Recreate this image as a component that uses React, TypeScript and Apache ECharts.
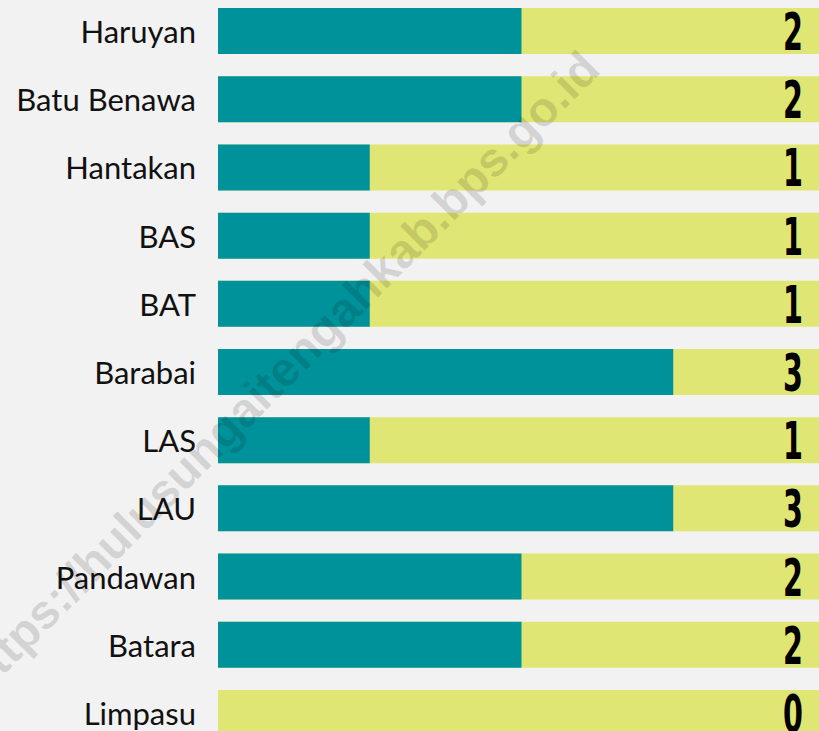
import React, { useEffect, useRef } from "react";
import * as echarts from "echarts";

const categories = [
  "Haruyan",
  "Batu Benawa",
  "Hantakan",
  "BAS",
  "BAT",
  "Barabai",
  "LAS",
  "LAU",
  "Pandawan",
  "Batara",
  "Limpasu",
];
const values = [2, 2, 1, 1, 1, 3, 1, 3, 2, 2, 0];
const axisMax = 4;
const fullBar = categories.map(() => axisMax);
const valueLabels = values.map((v, i) => [axisMax, i, v]);
const watermark = "https://hulusungaitengahkab.bps.go.id";

export default function App() {
  const ref = useRef<HTMLDivElement>(null);
  useEffect(() => {
    if (!ref.current) return;
    const chart = echarts.init(ref.current, undefined, { renderer: "svg" });
    chart.setOption({
      animation: false,
      backgroundColor: "#f2f2f2",
      grid: { left: 218, top: 0, width: 607, height: 750, containLabel: false },
      xAxis: {
        type: "value",
        min: 0,
        max: axisMax,
        show: false,
      },
      yAxis: {
        type: "category",
        data: categories,
        inverse: true,
        axisLine: { show: false },
        axisTick: { show: false },
        splitLine: { show: false },
        axisLabel: {
          margin: 22,
          fontFamily: "Lato, sans-serif",
          fontSize: 31,
          color: "#111111",
        },
      },
      series: [
        {
          type: "bar",
          data: fullBar,
          barWidth: 46,
          itemStyle: { color: "#e0e674" },
          silent: true,
        },
        {
          type: "bar",
          data: values,
          barWidth: 46,
          barGap: "-100%",
          itemStyle: { color: "#00929a" },
        },
        {
          type: "custom",
          data: valueLabels,
          encode: { x: 0, y: 1 },
          z: 10,
          silent: true,
          renderItem: (params: any, api: any) => {
            const pt = api.coord([api.value(0), api.value(1)]);
            return {
              type: "text",
              x: pt[0] - 22,
              y: pt[1] + 1,
              scaleX: 0.55,
              style: {
                text: String(api.value(2)),
                fontFamily: "'DejaVu Sans', sans-serif",
                fontWeight: "bold",
                fontSize: 52,
                fill: "#000000",
                align: "right",
                verticalAlign: "middle",
              },
            };
          },
        },
      ],
      graphic: [
        {
          type: "text",
          x: 280,
          y: 376,
          rotation: 0.79,
          z: 100,
          silent: true,
          style: {
            text: watermark,
            fontFamily: "'Liberation Sans', Arial, sans-serif",
            fontWeight: "bold",
            fontSize: 48,
            fill: "rgba(0,0,0,0.13)",
            align: "center",
            verticalAlign: "middle",
          },
        },
      ],
    });
    return () => chart.dispose();
  }, []);
  return (
    <div
      ref={ref}
      style={{ position: "fixed", left: 0, top: -3, width: 826, height: 750 }}
    />
  );
}
